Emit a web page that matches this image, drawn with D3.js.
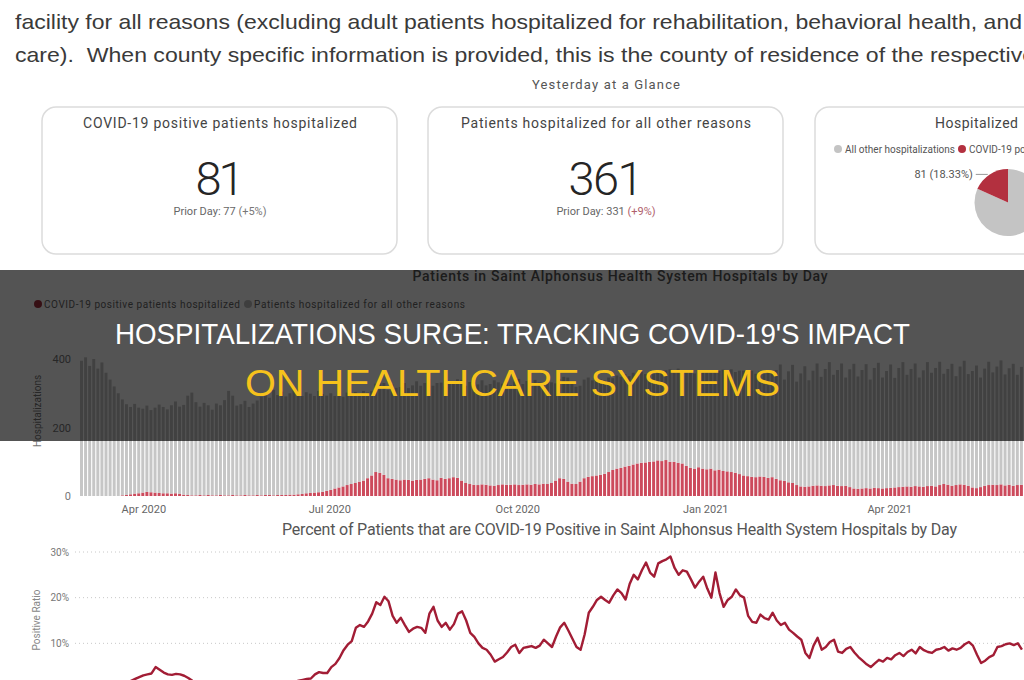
<!DOCTYPE html>
<html>
<head>
<meta charset="utf-8">
<script src="https://cdn.jsdelivr.net/npm/d3@7"></script>
<style>
  body { margin: 0; background: #fff; overflow: hidden; }
  svg { display: block; }
  text { font-family: Roboto, "Noto Sans", "DejaVu Sans", sans-serif; }
</style>
</head>
<body>
<div id="chart"></div>
<script>
// ---- DATA (2-day bins starting 1 Mar 2020)
var startDate = new Date(2020, 2, 1);
var binDays = 2;

var covidBeds = [
  0,0,0,0,0,0,0,0,0,0,
  2,3,5,7,8,10,12,11,10,9,
  8,8,7,8,6,4,3,2,2,3,
  2,3,2,2,3,2,2,3,2,2,
  3,2,2,3,2,3,3,2,3,3,
  3,4,4,5,6,8,9,10,11,12,
  15,18,22,25,28,32,35,38,42,45,
  52,60,70,68,62,52,50,48,46,48,
  47,45,47,48,50,52,48,46,53,50,
  52,55,53,45,38,35,33,32,34,33,
  31,30,32,34,33,33,34,32,33,34,
  33,35,34,36,35,38,45,52,50,42,
  36,35,42,52,56,58,60,62,65,70,
  76,80,82,86,88,92,95,97,98,100,
  101,104,102,105,100,100,97,95,88,82,
  80,84,80,78,80,75,77,73,72,70,
  68,64,60,58,56,55,57,56,53,55,
  50,46,44,40,38,32,28,27,28,30,
  31,30,29,31,32,30,29,30,26,22,
  21,22,23,22,24,23,22,23,24,25,
  26,27,28,27,29,28,27,29,30,28,
  32,35,33,30,32,34,33,30,25,23,
  26,30,32,33,32,34,31,33,30,32,33
];

var otherBeds = [
  395,405,380,400,372,390,360,340,320,300,
  280,265,255,262,250,245,252,240,248,258,
  252,245,258,268,255,262,290,300,272,258,
  270,262,250,268,262,278,305,290,262,266,
  275,258,268,276,288,298,284,308,292,302,
  288,296,305,300,286,295,290,282,296,286,
  278,282,270,268,262,270,258,266,252,262,
  250,246,258,262,268,258,276,268,272,282,
  268,278,288,274,280,290,274,284,278,270,
  284,276,288,294,284,298,290,294,304,290,
  296,308,300,294,304,290,300,310,294,302,
  290,304,298,290,300,294,284,290,298,304,
  292,284,280,288,290,280,285,278,272,276,
  268,272,266,270,262,268,260,265,258,262,
  255,262,258,262,270,266,275,268,280,286,
  278,276,282,290,286,292,288,296,290,300,
  294,302,306,298,310,302,308,300,312,306,
  318,338,296,324,345,302,330,352,310,336,
  356,318,342,360,322,338,358,316,344,364,
  328,346,362,318,350,366,324,342,360,320,
  348,364,326,344,358,318,340,362,330,346,
  360,322,338,356,318,344,362,326,340,358,
  320,342,360,328,346,362,324,340,356,322,344
];

var positivePct = [
  0,0,0,0,0,0,0,0,0,0,
  0.8,1.1,1.8,2.2,2.6,3.0,3.2,3.4,4.8,4.2,
  3.6,3.2,3.1,3.3,3.2,2.9,2.4,1.8,1.4,1.2,
  1.0,0.9,1.1,0.8,1.0,0.9,0.8,1.0,0.9,1.1,
  1.0,0.9,0.8,1.0,1.1,0.9,1.0,1.2,1.1,1.3,
  1.2,1.4,1.6,1.8,2.0,2.2,2.3,3.2,3.7,3.5,
  3.5,4.8,5.5,6.8,8.5,9.7,10.5,13.4,14.0,13.6,
  14.8,16.5,19.0,18.4,20.2,19.2,16.0,14.5,15.6,14.0,
  12.5,13.2,13.6,13.4,12.3,16.5,18.0,15.0,13.6,14.5,
  13.0,14.2,16.5,17.0,15.0,12.3,11.4,10.0,9.0,8.6,
  7.5,6.0,6.5,7.0,8.0,9.2,9.7,7.9,9.0,9.2,
  9.4,9.0,9.5,10.8,10.0,9.2,11.5,13.5,14.5,12.8,
  11.0,9.2,8.6,12.0,16.7,18.0,19.5,20.2,19.5,18.9,
  20.5,21.8,21.0,19.6,23.0,25.0,24.0,26.0,27.7,25.5,
  24.6,27.5,28.0,28.4,29.0,26.5,25.0,26.0,25.7,24.0,
  22.2,23.5,24.6,22.0,20.0,25.5,21.0,18.0,19.5,20.2,
  21.8,20.5,20.0,16.0,14.7,14.5,16.3,15.5,15.2,16.7,
  15.0,14.0,14.5,13.0,12.3,11.5,10.8,7.9,6.8,9.5,
  11.2,8.6,9.2,10.3,10.8,8.2,7.9,8.8,9.2,8.0,
  7.0,6.2,5.4,4.8,5.6,6.4,6.0,6.8,6.5,7.4,
  7.9,7.2,8.1,8.6,7.8,9.2,8.5,8.1,7.9,8.6,
  8.8,9.2,8.4,8.9,8.6,9.0,9.8,10.3,9.5,7.5,
  5.7,6.2,7.0,7.4,9.2,9.4,9.8,10.0,9.6,10.0,8.6
];

var xTickDates = [new Date(2020, 3, 1), new Date(2020, 6, 1), new Date(2020, 9, 1), new Date(2021, 0, 1), new Date(2021, 3, 1)];
var barTicks = [0, 200, 400];
var pctTicks = [10, 20, 30];

var cardTitles = ["COVID-19 positive patients hospitalized", "Patients hospitalized for all other reasons"];
var cardValues = [81, 361];
var cardPrior = [77, 331];
var cardChange = ["(+5%)", "(+9%)"];

var pieLabels = ["All other hospitalizations", "COVID-19 positive"];
var pieValues = [361, 81];

var introLines = [
  "facility for all reasons (excluding adult patients hospitalized for rehabilitation, behavioral health, and",
  "care).  When county specific information is provided, this is the county of residence of the respective"
];
var bannerLines = ["HOSPITALIZATIONS SURGE: TRACKING COVID-19'S IMPACT", "ON HEALTHCARE SYSTEMS"];

// ---- SVG
var width = 1024, height = 680;
var svg = d3.select("#chart").append("svg")
  .attr("width", width)
  .attr("height", height);

var days = covidBeds.map(function (d, i) {
  return {
    date: d3.timeDay.offset(startDate, i * binDays),
    covid: covidBeds[i],
    other: otherBeds[i],
    pct: positivePct[i]
  };
});

// Intro paragraph
svg.selectAll(".intro").data(introLines).enter().append("text")
  .attr("class", "intro")
  .attr("x", 15)
  .attr("y", function (d, i) { return 29 + i * 33; })
  .attr("textLength", function (d, i) { return i == 0 ? 1007 : 1020; })
  .attr("lengthAdjust", "spacingAndGlyphs")
  .style("white-space", "pre")
  .style("font-family", "'Liberation Sans Narrow', 'Liberation Sans', Arial, sans-serif")
  .style("font-size", "21px")
  .style("fill", "#3a3a3a")
  .text(function (d) { return d; });

svg.append("text")
  .attr("x", 606).attr("y", 89)
  .attr("text-anchor", "middle")
  .attr("textLength", 148).attr("lengthAdjust", "spacing")
  .style("font-size", "13px").style("fill", "#555")
  .text("Yesterday at a Glance");

// ---- KPI cards
var cardX = [42, 428];
var cards = svg.selectAll(".card").data(cardTitles).enter().append("g")
  .attr("class", "card")
  .attr("transform", function (d, i) { return "translate(" + cardX[i] + ",107)"; });

cards.append("rect")
  .attr("width", 355).attr("height", 147).attr("rx", 14)
  .attr("fill", "#fff").attr("stroke", "#dcdcdc").attr("stroke-width", 1.5);

cards.append("text")
  .attr("x", 178).attr("y", 21)
  .attr("text-anchor", "middle")
  .attr("textLength", function (d, i) { return i == 0 ? 274 : 290; })
  .attr("lengthAdjust", "spacing")
  .style("font-size", "14px").style("fill", "#444")
  .text(function (d) { return d; });

cards.append("text")
  .attr("x", 178).attr("y", 88)
  .attr("text-anchor", "middle")
  .attr("textLength", function (d, i) { return i == 0 ? 49 : 75; })
  .attr("lengthAdjust", "spacing")
  .style("font-size", "47px").style("fill", "#252525").style("font-weight", 300)
  .text(function (d, i) { return cardValues[i]; });

var prior = cards.append("text")
  .attr("x", 178).attr("y", 108)
  .attr("text-anchor", "middle")
  .style("font-size", "11px").style("fill", "#666");
prior.append("tspan").text(function (d, i) { return "Prior Day: " + cardPrior[i] + " "; });
prior.append("tspan")
  .style("fill", function (d, i) { return i == 0 ? "#777" : "#b0606c"; })
  .text(function (d, i) { return cardChange[i]; });

// ---- Pie card
var pieCard = svg.append("g").attr("transform", "translate(815,107)");
pieCard.append("rect")
  .attr("width", 322).attr("height", 147).attr("rx", 14)
  .attr("fill", "#fff").attr("stroke", "#dcdcdc").attr("stroke-width", 1.5);
pieCard.append("text")
  .attr("x", 120).attr("y", 21)
  .attr("textLength", 83).attr("lengthAdjust", "spacing")
  .style("font-size", "14px").style("fill", "#444")
  .text("Hospitalized");

var pieColor = d3.scaleOrdinal().domain(pieLabels).range(["#c4c4c4", "#b3303f"]);
var legendX = [23, 147];
var pieLegend = pieCard.selectAll(".pleg").data(pieLabels).enter().append("g")
  .attr("transform", function (d, i) { return "translate(" + legendX[i] + ",42)"; });
pieLegend.append("circle").attr("r", 4).attr("fill", function (d) { return pieColor(d); });
pieLegend.append("text")
  .attr("x", 7).attr("y", 3.5)
  .style("font-size", "10px").style("fill", "#555")
  .text(function (d) { return d; });

var pie = d3.pie().sort(null);
var radius = 33.5;
var arc = d3.arc().innerRadius(0).outerRadius(radius);
var pieG = pieCard.append("g").attr("transform", "translate(193,95.5)");
var slices = pie(pieValues);
pieG.selectAll("path").data(slices).enter().append("path")
  .attr("d", arc)
  .attr("fill", function (d, i) { return pieColor(pieLabels[i]); });

var covidSlice = slices[1];
var midA = (covidSlice.startAngle + covidSlice.endAngle) / 2;
var tipX = Math.sin(midA) * radius, tipY = -Math.cos(midA) * radius;
pieG.append("line")
  .attr("x1", tipX - 14).attr("y1", tipY).attr("x2", tipX - 2).attr("y2", tipY)
  .attr("stroke", "#999");
pieG.append("text")
  .attr("x", tipX - 17).attr("y", tipY + 4)
  .attr("text-anchor", "end")
  .style("font-size", "11px").style("fill", "#555")
  .text(pieValues[1] + " (" + d3.format(".2%")(pieValues[1] / d3.sum(pieValues)) + ")");

// ---- Bar chart
var x = d3.scaleTime()
  .domain([startDate, new Date(2021, 5, 6)])
  .range([80, 1024]);

var yBar = d3.scaleLinear().domain([0, 400]).range([496, 359]);

svg.append("text")
  .attr("x", 620).attr("y", 281)
  .attr("text-anchor", "middle")
  .attr("textLength", 415).attr("lengthAdjust", "spacing")
  .style("font-size", "14px").style("font-weight", 500).style("fill", "#555")
  .text("Patients in Saint Alphonsus Health System Hospitals by Day");

var barLegend = [
  { label: "COVID-19 positive patients hospitalized", color: "#a3303f", x: 38, len: 196 },
  { label: "Patients hospitalized for all other reasons", color: "#bdbdbd", x: 248, len: 211 }
];
var bl = svg.selectAll(".blg").data(barLegend).enter().append("g")
  .attr("transform", function (d) { return "translate(" + d.x + ",304)"; });
bl.append("circle").attr("r", 4).attr("fill", function (d) { return d.color; });
bl.append("text")
  .attr("x", 6).attr("y", 3.5)
  .attr("textLength", function (d) { return d.len; })
  .attr("lengthAdjust", "spacing")
  .style("font-size", "10px").style("fill", "#666")
  .text(function (d) { return d.label; });

var stack = d3.stack().keys(["covid", "other"]);
var series = stack(days);
var barColor = { covid: "#cc4a5c", other: "#c6c6c6" };

svg.append("g").selectAll("g").data(series).enter().append("g")
  .attr("fill", function (s) { return barColor[s.key]; })
  .selectAll("rect").data(function (s) { return s; }).enter().append("rect")
  .attr("x", function (d) { return x(d.data.date); })
  .attr("width", function (d) { return x(d3.timeDay.offset(d.data.date, binDays)) - x(d.data.date) - 1.1; })
  .attr("y", function (d) { return yBar(d[1]); })
  .attr("height", function (d) { return yBar(d[0]) - yBar(d[1]); });

var xAxis = svg.append("g")
  .attr("transform", "translate(0,498)")
  .call(d3.axisBottom(x).tickValues(xTickDates).tickSize(0).tickFormat(d3.timeFormat("%b %Y")));
xAxis.select(".domain").remove();
xAxis.selectAll("text")
  .attr("dy", "1.05em")
  .style("font-family", "Roboto, sans-serif").style("font-size", "11px").style("fill", "#666");

var yAxisBar = svg.append("g")
  .attr("transform", "translate(77,0)")
  .call(d3.axisLeft(yBar).tickValues(barTicks).tickSize(0).tickPadding(6));
yAxisBar.select(".domain").remove();
yAxisBar.selectAll("text")
  .style("font-family", "Roboto, sans-serif").style("font-size", "11px").style("fill", "#777");

svg.append("text")
  .attr("transform", "translate(41,411) rotate(-90)")
  .attr("text-anchor", "middle")
  .style("font-size", "10px").style("fill", "#777")
  .text("Hospitalizations");

// ---- Percent line chart
var yPct = d3.scaleLinear().domain([0, 30]).range([689, 552]);

svg.append("text")
  .attr("x", 282).attr("y", 535)
  .attr("textLength", 675).attr("lengthAdjust", "spacing")
  .style("font-size", "16px").style("fill", "#555")
  .text("Percent of Patients that are COVID-19 Positive in Saint Alphonsus Health System Hospitals by Day");

svg.append("g").selectAll("line").data(pctTicks).enter().append("line")
  .attr("x1", 75).attr("x2", 1024)
  .attr("y1", function (d) { return yPct(d); })
  .attr("y2", function (d) { return yPct(d); })
  .attr("stroke", "#c8c8c8")
  .attr("stroke-dasharray", "1,3");

var yAxisPct = svg.append("g")
  .attr("transform", "translate(75,0)")
  .call(d3.axisLeft(yPct).tickValues(pctTicks).tickSize(0).tickPadding(6).tickFormat(function (d) { return d + "%"; }));
yAxisPct.select(".domain").remove();
yAxisPct.selectAll("text")
  .style("font-family", "Roboto, sans-serif").style("font-size", "10px").style("fill", "#777");

svg.append("text")
  .attr("transform", "translate(40,620) rotate(-90)")
  .attr("text-anchor", "middle")
  .style("font-size", "10px").style("fill", "#888")
  .text("Positive Ratio");

var line = d3.line()
  .x(function (d) { return x(d3.timeDay.offset(d.date, 1)); })
  .y(function (d) { return yPct(d.pct); });

svg.append("path")
  .datum(days)
  .attr("d", line)
  .attr("fill", "none")
  .attr("stroke", "#a21d35")
  .attr("stroke-width", 2.4)
  .attr("stroke-linejoin", "round");

// ---- Banner overlay
svg.append("rect")
  .attr("x", 0).attr("y", 270)
  .attr("width", width).attr("height", 171)
  .attr("fill", "rgba(0,0,0,0.67)");

svg.append("text")
  .attr("x", 115).attr("y", 344)
  .attr("textLength", 795).attr("lengthAdjust", "spacingAndGlyphs")
  .style("font-family", "'Liberation Sans Narrow', 'Liberation Sans', Arial, sans-serif")
  .style("font-size", "29px").style("fill", "#fff")
  .text(bannerLines[0]);

svg.append("text")
  .attr("x", 245).attr("y", 396)
  .attr("textLength", 535).attr("lengthAdjust", "spacingAndGlyphs")
  .style("font-family", "'Liberation Sans Narrow', 'Liberation Sans', Arial, sans-serif")
  .style("font-size", "36px").style("fill", "#f6c21c")
  .text(bannerLines[1]);
</script>
</body>
</html>
